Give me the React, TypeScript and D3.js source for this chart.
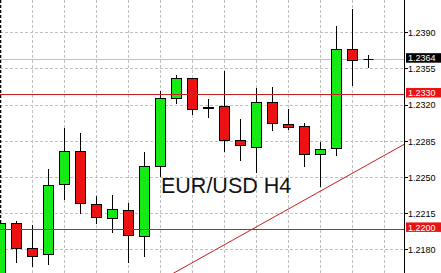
import React from "react";
import * as d3 from "d3";

const W = 441;
const H = 273;
const AXIS_X = 404;

// OHLC data (EUR/USD H4)
const opens = [1.2150, 1.2205, 1.2181, 1.2175, 1.2243, 1.2275, 1.2224, 1.2210, 1.2218, 1.2193, 1.2261, 1.2326, 1.2346, 1.2317, 1.2319, 1.2286, 1.2279, 1.2322, 1.2301, 1.2299, 1.2272, 1.2278, 1.2374, 1.2364];
const highs = [1.2205, 1.2208, 1.2204, 1.2258, 1.2298, 1.2293, 1.2232, 1.2233, 1.2225, 1.2275, 1.2334, 1.2349, 1.2346, 1.2326, 1.2353, 1.2306, 1.2336, 1.2337, 1.2316, 1.2303, 1.2284, 1.2396, 1.2413, 1.2368];
const lows = [1.2140, 1.2167, 1.2163, 1.2165, 1.2228, 1.2215, 1.2205, 1.2196, 1.2167, 1.2173, 1.2250, 1.2321, 1.2310, 1.2307, 1.2275, 1.2266, 1.2254, 1.2295, 1.2296, 1.2260, 1.2241, 1.2271, 1.2338, 1.2356];
const closes = [1.2205, 1.2181, 1.2174, 1.2242, 1.2275, 1.2225, 1.2211, 1.2219, 1.2194, 1.2261, 1.2326, 1.2346, 1.2316, 1.2318, 1.2286, 1.2281, 1.2322, 1.2302, 1.2298, 1.2272, 1.2277, 1.2374, 1.2363, 1.2364];

const yTicks = [1.2180, 1.2215, 1.2250, 1.2285, 1.2320, 1.2355, 1.2390];
const gridIndices = [2, 4, 6, 8, 10, 12, 14, 16, 18, 20, 22, 24];
const levels = [1.2330, 1.2200];
const bidPrice = 1.2364;
const trendIdx = [11, 25];
const trendPrice = [1.2159, 1.2280];
const title = "EUR/USD H4";

const GREEN = "#14ea14";
const RED = "#ec1212";
const LEVEL = "#c81e1e";

export default function App() {
  const x = d3.scaleLinear().domain([0, 23]).range([0.5, 368.5]);
  const y = d3.scaleLinear().domain([1.2180, 1.2390]).range([249.8, 32.6]);
  const crisp = (v: number) => Math.floor(v) + 0.5;
  const fmt = d3.format(".4f");

  const candles = opens.map((o, i) => ({ o, h: highs[i], l: lows[i], c: closes[i], i }));

  const slope = (trendPrice[1] - trendPrice[0]) / (trendIdx[1] - trendIdx[0]);
  const tStartIdx = x.invert(0);
  const tEndIdx = x.invert(AXIS_X);
  const priceAt = (k: number) => trendPrice[0] + slope * (k - trendIdx[0]);

  const labelFont = "'Liberation Sans', Arial, sans-serif";

  return (
    <svg width={W} height={H} style={{ position: "absolute", left: 0, top: 0, display: "block", background: "#fff" }}>
      <defs>
        <clipPath id="plot">
          <rect x={0} y={0} width={AXIS_X} height={H} />
        </clipPath>
      </defs>
      <rect x={0} y={0} width={W} height={H} fill="#fff" />
      <g clipPath="url(#plot)">
        {yTicks.map((t) => (
          <line key={"hg" + t} x1={0} x2={AXIS_X} y1={crisp(y(t))} y2={crisp(y(t))} stroke="#c0c0c0" strokeDasharray="3,2" />
        ))}
        {gridIndices.map((k) => (
          <line key={"vg" + k} x1={x(k)} x2={x(k)} y1={0} y2={H} stroke="#c0c0c0" strokeDasharray="3,2" />
        ))}
        <line x1={0.5} x2={0.5} y1={0} y2={H} stroke="#000" strokeWidth={1.5} strokeDasharray="3,2" />
        <line x1={0} x2={AXIS_X} y1={crisp(y(bidPrice))} y2={crisp(y(bidPrice))} stroke="#c0c0c0" />
        {candles.map((d) => {
          const cx = x(d.i);
          const top = crisp(y(Math.max(d.o, d.c)));
          const bot = crisp(y(Math.min(d.o, d.c)));
          const up = d.c > d.o;
          const doji = Math.abs(d.c - d.o) < 0.00005;
          return (
            <g key={"c" + d.i}>
              <line x1={cx} x2={cx} y1={Math.round(y(d.h))} y2={Math.round(y(d.l))} stroke="#000" />
              {doji ? (
                <line x1={cx - 5} x2={cx + 5} y1={top} y2={top} stroke="#000" />
              ) : (
                <rect x={cx - 5} y={top} width={10} height={Math.max(0, bot - top)} fill={up ? GREEN : RED} stroke="#000" />
              )}
            </g>
          );
        })}
        {levels.map((lv) => (
          <line key={"lv" + lv} x1={0} x2={AXIS_X} y1={crisp(y(lv))} y2={crisp(y(lv))} stroke={LEVEL} />
        ))}
        <line x1={x(tStartIdx)} y1={y(priceAt(tStartIdx))} x2={x(tEndIdx)} y2={y(priceAt(tEndIdx))} stroke={LEVEL} strokeWidth={1} />
        <text x={161} y={193} fontFamily={labelFont} fontSize={21.5} fill="#141414">{title}</text>
      </g>
      <line x1={AXIS_X + 0.5} x2={AXIS_X + 0.5} y1={0} y2={H} stroke="#000" />
      {yTicks.map((t) => (
        <g key={"tl" + t}>
          <line x1={AXIS_X + 1} x2={AXIS_X + 4} y1={crisp(y(t))} y2={crisp(y(t))} stroke="#000" />
          <text x={408} y={y(t) + 3.3} fontFamily={labelFont} fontSize={9} fill="#000">{fmt(t)}</text>
        </g>
      ))}
      {levels.map((lv) => (
        <g key={"bx" + lv}>
          <rect x={AXIS_X + 2} y={y(lv) - 6.7} width={W - AXIS_X - 2} height={9.5} fill={RED} />
          <text x={408} y={y(lv) + 1.6} fontFamily={labelFont} fontSize={9} fill="#fff">{fmt(lv)}</text>
        </g>
      ))}
      <rect x={AXIS_X + 2} y={y(bidPrice) - 6.3} width={W - AXIS_X - 2} height={9.5} fill="#000" />
      <text x={408} y={y(bidPrice) + 1.8} fontFamily={labelFont} fontSize={9} fill="#fff">{fmt(bidPrice)}</text>
    </svg>
  );
}
